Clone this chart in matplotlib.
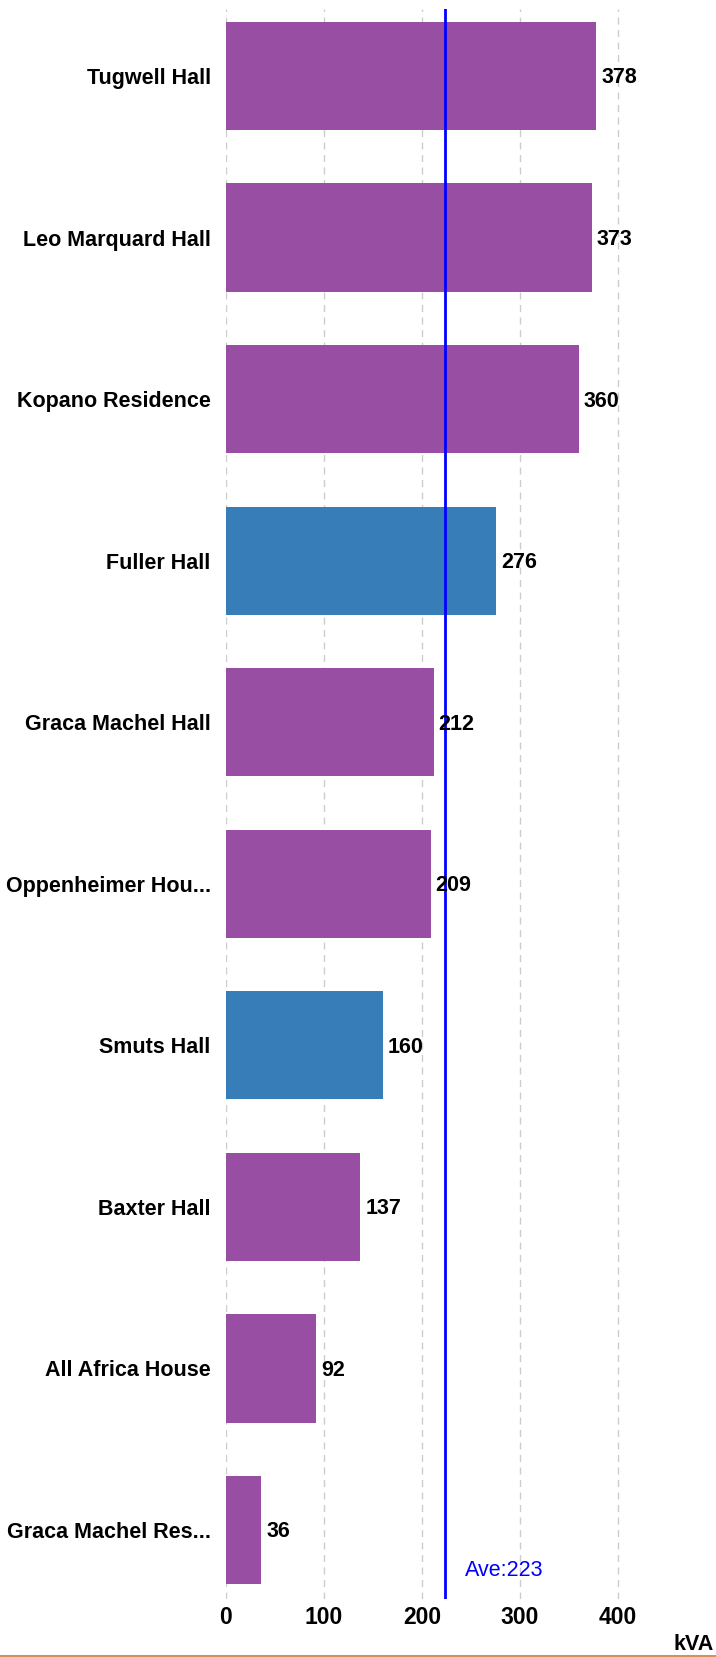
import matplotlib
matplotlib.use('Agg')
import matplotlib.pyplot as plt
from matplotlib.lines import Line2D

# residences and their kVA
names = ['Tugwell Hall', 'Leo Marquard Hall', 'Kopano Residence', 'Fuller Hall',
         'Graca Machel Hall', 'Oppenheimer Hou...', 'Smuts Hall', 'Baxter Hall',
         'All Africa House', 'Graca Machel Res...']
values = [378, 373, 360, 276, 212, 209, 160, 137, 92, 36]
groups = ['f', 'f', 'f', 'm', 'f', 'f', 'm', 'f', 'f', 'f']
average = 223
xticks = [0, 100, 200, 300, 400]

colors = {'f': '#984EA3', 'm': '#377EB8'}
W, H = 716, 1657
fig = plt.figure(figsize=(W / 100, H / 100), dpi=100)

# axes box in pixels
left, right, top, bottom = 226, 667, 9, 1599
ax = fig.add_axes([left / W, 1 - bottom / H, (right - left) / W, (bottom - top) / H])

fs = 15.5
ypos = list(range(len(names)))
bars = ax.barh(ypos, values, height=0.67, color=[colors[g] for g in groups], zorder=2)
ax.set_ylim(9.427, -0.415)
ax.set_xlim(0, 450)

ax.set_yticks(ypos)
ax.set_yticklabels(names, fontsize=fs, fontweight='bold', family='Liberation Sans')
ax.set_xticks(xticks)
ax.set_xticklabels([str(t) for t in xticks], fontsize=16.5, fontweight='bold',
                   family='Liberation Sans')
ax.tick_params(axis='both', length=0)
ax.tick_params(axis='y', pad=11)
ax.tick_params(axis='x', pad=5)

for s in ax.spines.values():
    s.set_visible(False)
ax.grid(axis='x', color='#cccccc', linestyle=(0, (5, 4)), linewidth=1, zorder=0)

for b, v in zip(bars, values):
    ax.text(v + 5, b.get_y() + b.get_height() / 2 + 0.012, str(v), va='center', ha='left',
            fontsize=fs, fontweight='bold', family='Liberation Sans', zorder=4)

ax.axvline(average, color='#0000FF', linewidth=2, zorder=3)
fig.text(465 / W, 1 - 1571 / H, 'Ave:%d' % average, color='#0000FF', fontsize=15.5,
         family='Liberation Sans', va='center', ha='left')

fig.text(714 / W, 1 - 1644 / H, 'kVA', fontsize=fs, fontweight='bold',
         family='Liberation Sans', ha='right', va='center')

fig.add_artist(Line2D([0, 1], [1 - 1656 / H, 1 - 1656 / H], color='#D4915A',
                      linewidth=1.5, transform=fig.transFigure))

fig.savefig('out.png', dpi=100)
